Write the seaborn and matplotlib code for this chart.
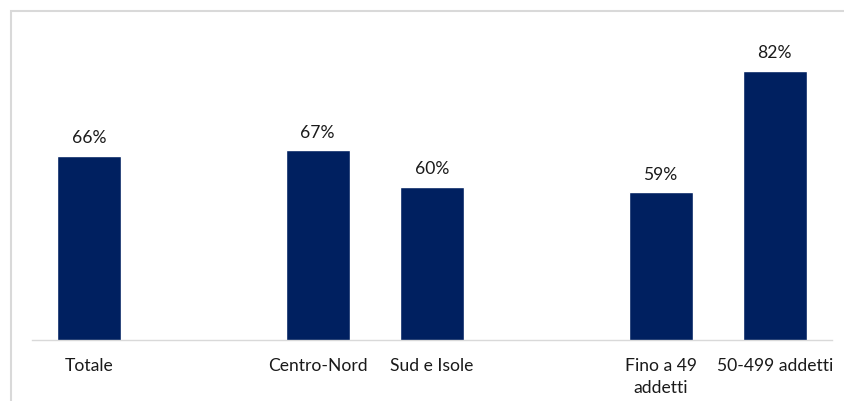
import matplotlib
matplotlib.use("Agg")
import matplotlib.pyplot as plt
import seaborn as sns
import pandas as pd
from matplotlib.patches import Rectangle

categories = ["Totale", "Centro-Nord", "Sud e Isole", "Fino a 49\naddetti", "50-499 addetti"]
values = [66, 67, 60, 59, 82]
slot_order = ["Totale", " ", "Centro-Nord", "Sud e Isole", "  ", "Fino a 49\naddetti", "50-499 addetti"]

sns.set_theme(style="white")
plt.rcParams["font.family"] = ["Lato", "DejaVu Sans"]

df = pd.DataFrame({"cat": categories, "val": values})

fig = plt.figure(figsize=(8.45, 4.01), dpi=100)
ax = fig.add_axes([32/845, (401-340)/401, 800/845, (340-29)/401])

sns.barplot(data=df, x="cat", y="val", order=slot_order, color="#002060",
            saturation=1, width=0.56, ax=ax)

ax.set_ylim(31, 90)
ax.set_xlim(-0.5, 6.5)
ax.set_xlabel("")
ax.set_ylabel("")
ax.set_yticks([])
for s in ["top", "right", "left"]:
    ax.spines[s].set_visible(False)
ax.spines["bottom"].set_color("#d9d9d9")
ax.spines["bottom"].set_linewidth(1.0)
ax.tick_params(axis="x", length=0, pad=13, labelsize=12.6, colors="#1a1a1a")
for lbl in ax.get_xticklabels():
    lbl.set_verticalalignment("top")
    lbl.set_linespacing(1.45)

for cont in ax.containers:
    ax.bar_label(cont, fmt="%.0f%%", padding=7, fontsize=12.6, color="#1a1a1a")

fig.patches.append(Rectangle((11/845, -0.1), 2.0, 1.1 - 11/401, transform=fig.transFigure,
                             fill=False, edgecolor="#d9d9d9", linewidth=1.5, zorder=0))

fig.savefig("out.png", dpi=100, facecolor="white")
